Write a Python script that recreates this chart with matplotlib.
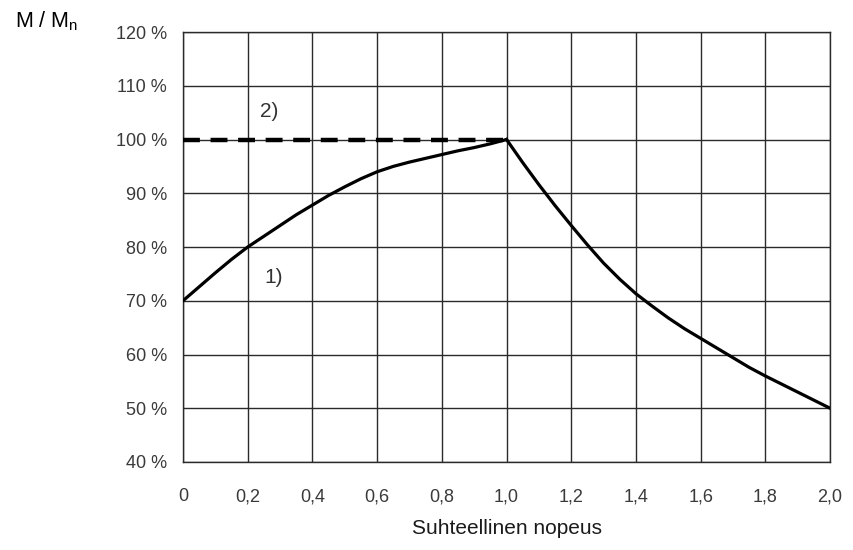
import numpy as np
import matplotlib.pyplot as plt

#values
speed_low=[0.0,0.05,0.1,0.15,0.2,0.25,0.3,0.35,0.4,0.45,0.5,0.55,0.6,0.65,0.7,0.75,0.8,0.85,0.9,0.95,1.0]
torque_low=[70.0,72.6,75.2,77.7,80.0,82.0,84.0,86.0,87.8,89.6,91.2,92.7,94.0,95.0,95.8,96.5,97.2,97.9,98.5,99.2,100.0]
speed_high=[1.0,1.05,1.1,1.15,1.2,1.25,1.3,1.35,1.4,1.45,1.5,1.55,1.6,1.65,1.7,1.75,1.8,1.85,1.9,1.95,2.0]
torque_high=[100.0,95.7,91.6,87.7,84.0,80.4,77.0,74.0,71.3,69.0,66.8,64.8,63.0,61.2,59.4,57.6,56.0,54.5,53.0,51.5,50.0]
speed_const=[0.0,1.0]
torque_const=[100.0,100.0]
xticks=[0,0.2,0.4,0.6,0.8,1.0,1.2,1.4,1.6,1.8,2.0]
xticklabels=['0','0,2','0,4','0,6','0,8','1,0','1,2','1,4','1,6','1,8','2,0']
yticks=[40,50,60,70,80,90,100,110,120]
yticklabels=[str(v)+' %' for v in yticks]

plt.rcParams['font.family']=['Liberation Sans','DejaVu Sans']

fig=plt.figure(figsize=(8.54,5.5),dpi=100)
ax=fig.add_axes([0.2143,0.16,0.7577,0.7818])

#grid
ax.set_xlim(0,2.0); ax.set_ylim(40,120)
ax.set_xticks(xticks); ax.set_yticks(yticks)
ax.grid(color='#2a2a2a',linewidth=1.0)
ax.set_axisbelow(True)
for s in ax.spines.values():
  s.set_color('#2a2a2a'); s.set_linewidth(1.0)

#curves
ax.plot(speed_const,torque_const,color='black',linewidth=3.2,dashes=(3.8,2.4),solid_capstyle='butt',zorder=3)
ax.plot(speed_low,torque_low,color='black',linewidth=2.3,zorder=4)
ax.plot(speed_high,torque_high,color='black',linewidth=2.3,zorder=4)

#annotations
ax.text(0.28,74.4,'1)',fontsize=15,color='#333333',ha='center',va='center')
ax.text(0.265,105.3,'2)',fontsize=15,color='#333333',ha='center',va='center')

#tick labels
ax.set_xticklabels(xticklabels,fontsize=13,color='#3a3a3a')
ax.set_yticklabels(yticklabels,fontsize=13,color='#3a3a3a')
ax.tick_params(axis='x',length=0,pad=19)
ax.tick_params(axis='y',length=0,pad=11.5)

ax.set_xlabel('Suhteellinen nopeus',fontsize=15,color='#1a1a1a',labelpad=9.5)
fig.text(15/854,1-21/550,'M / M$_\\mathregular{n}$',fontsize=15.5,color='black',ha='left',va='center')

plt.savefig('out.png',dpi=100)
